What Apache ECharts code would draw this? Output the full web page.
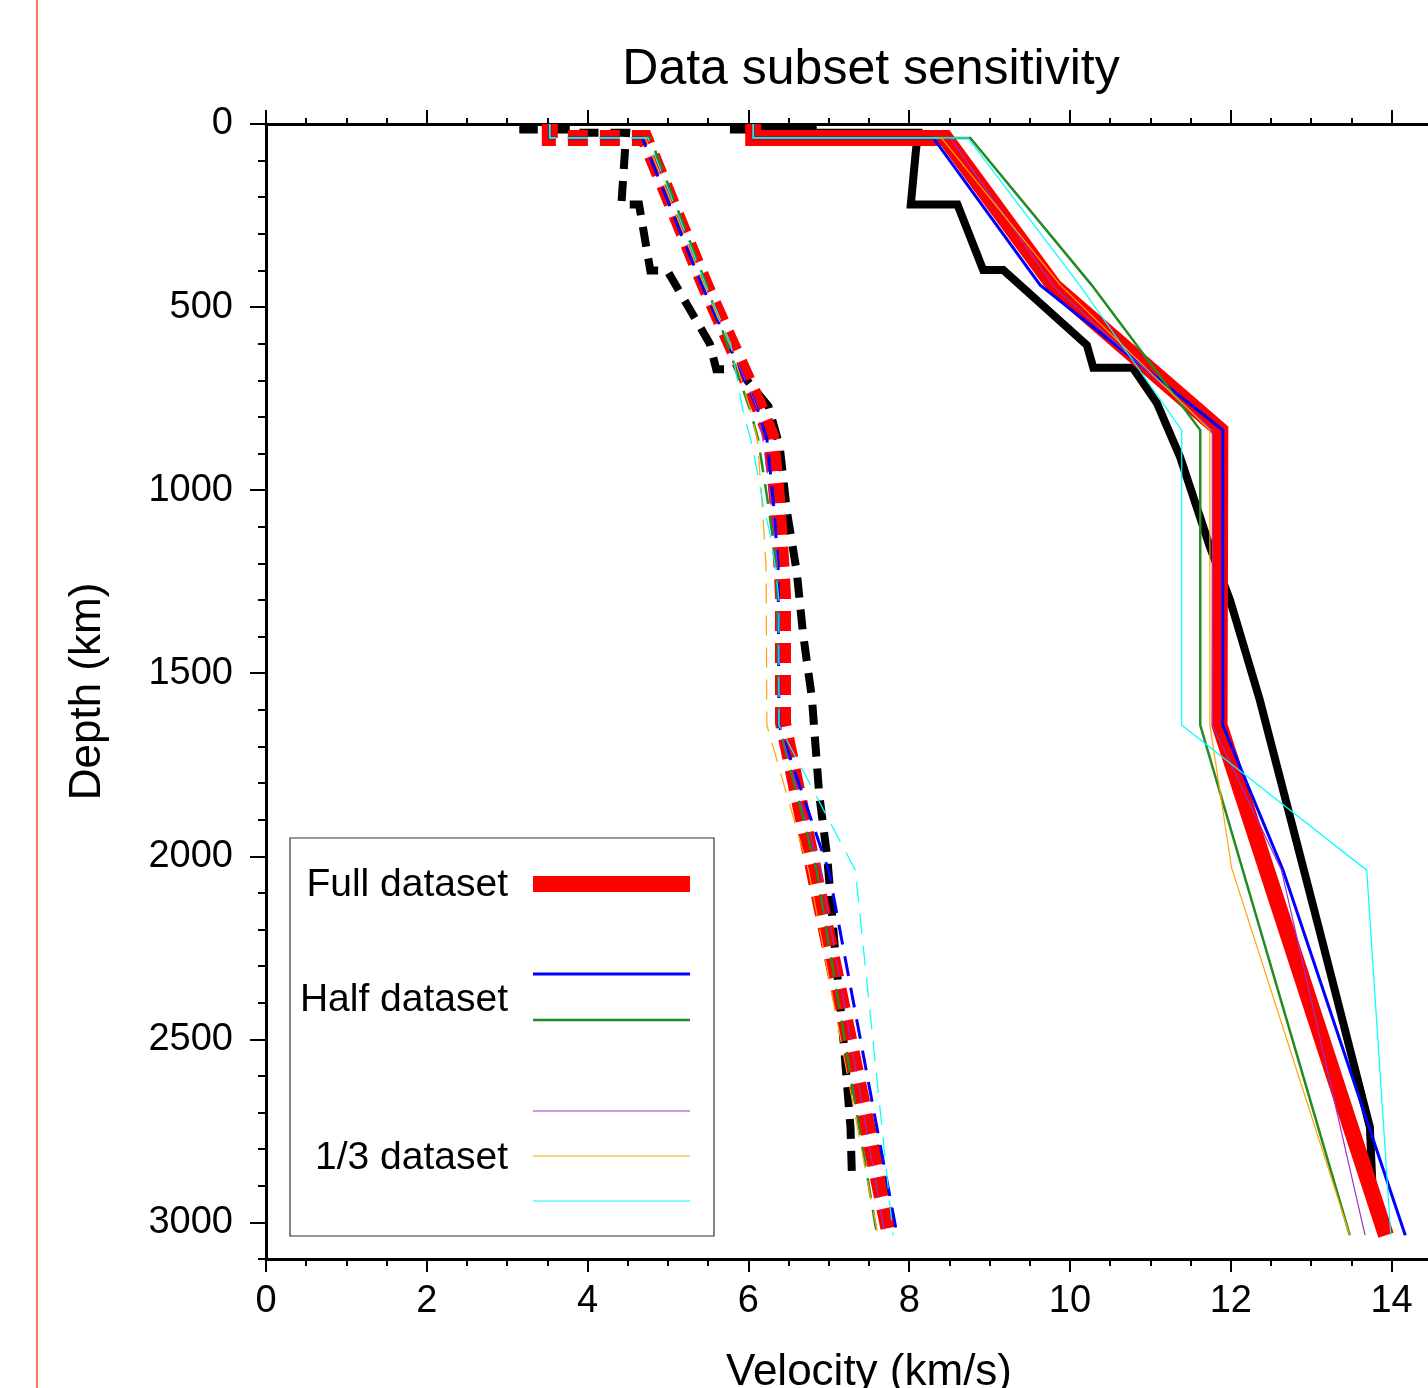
<!DOCTYPE html>
<html>
<head>
<meta charset="utf-8">
<script src="https://cdn.jsdelivr.net/npm/echarts@6/dist/echarts.min.js"></script>
<style>
    html, body { margin: 0; padding: 0; background: #ffffff; }
    #chart { width: 1428px; height: 1388px; }
</style>
</head>
<body>
<div id="chart"></div>
<script>
    // axis ticks
    var velocityTicks = [0, 2, 4, 6, 8, 10, 12, 14];
    var depthTicks = [0, 500, 1000, 1500, 2000, 2500, 3000];

    // reference model, [velocity km/s, depth km]
    var refVp = [[5.82, 0], [5.82, 15], [6.8, 15], [6.8, 24], [8.11, 24], [8.08, 80], [8.02, 220], [8.60, 220],
        [8.92, 399], [9.17, 399], [10.21, 604], [10.29, 666], [10.78, 666], [11.08, 762], [11.37, 910],
        [11.74, 1155], [11.99, 1300], [12.36, 1573], [12.77, 1920], [13.10, 2200], [13.45, 2500],
        [13.73, 2740], [13.76, 2891]];
    var refVs = [[3.2, 0], [3.2, 15], [3.9, 15], [3.9, 24], [4.48, 24], [4.42, 220], [4.64, 220], [4.78, 400],
        [4.99, 400], [5.52, 600], [5.60, 670], [5.87, 670], [6.25, 771], [6.39, 882], [6.48, 1060],
        [6.60, 1221], [6.68, 1393], [6.79, 1568], [6.88, 1830], [6.98, 2002], [7.08, 2262], [7.19, 2521],
        [7.27, 2741], [7.29, 2891]];

    // full dataset
    var fullVp = [[6.06, 0], [6.06, 38], [8.45, 38], [9.81, 445], [11.87, 836], [11.86, 1642], [13.93, 3035]];
    var fullVs = [[3.53, 0], [3.53, 38], [4.71, 38], [5.46, 440], [6.13, 770], [6.28, 852], [6.36, 1030],
        [6.41, 1205], [6.43, 1287], [6.43, 1636], [7.76, 3035]];

    // half dataset
    var halfAVp = [[6.06, 0], [6.06, 38], [8.30, 38], [9.63, 440], [11.90, 836], [11.90, 1642], [12.65, 2038], [14.17, 3035]];
    var halfAVs = [[3.53, 0], [3.53, 38], [4.68, 38], [5.42, 440], [6.10, 770], [6.23, 860], [6.31, 1030],
        [6.37, 1205], [6.38, 1642], [7.00, 2040], [7.85, 3035]];
    var halfBVp = [[6.06, 0], [6.06, 38], [8.76, 38], [10.27, 440], [11.62, 836], [11.62, 1642], [13.48, 3035]];
    var halfBVs = [[3.53, 0], [3.53, 38], [4.78, 38], [5.48, 440], [6.02, 780], [6.12, 860], [6.24, 1030],
        [6.35, 1205], [6.38, 1642], [6.85, 2040], [7.60, 3035]];

    // 1/3 dataset
    var thirdAVp = [[6.06, 0], [6.06, 38], [8.51, 38], [9.80, 445], [11.77, 836], [11.77, 1642], [12.63, 2038], [13.67, 3035]];
    var thirdAVs = [[3.53, 0], [3.53, 38], [4.72, 38], [5.45, 440], [6.10, 770], [6.18, 860], [6.28, 1030],
        [6.36, 1205], [6.38, 1642], [6.90, 2040], [7.70, 3035]];
    var thirdBVp = [[6.06, 0], [6.06, 38], [8.40, 38], [9.88, 440], [11.74, 836], [11.74, 1642], [12.01, 2032], [13.48, 3035]];
    var thirdBVs = [[3.53, 0], [3.53, 38], [4.72, 38], [5.45, 440], [5.80, 620], [6.02, 776], [6.11, 858],
        [6.17, 1035], [6.22, 1210], [6.23, 1642], [6.75, 2040], [7.61, 3035]];
    var thirdCVp = [[6.06, 0], [6.06, 38], [8.73, 38], [10.12, 440], [11.39, 836], [11.39, 1642], [13.69, 2038], [13.99, 3035]];
    var thirdCVs = [[3.53, 0], [3.53, 38], [4.75, 38], [5.47, 440], [5.78, 600], [5.93, 781], [6.03, 863],
        [6.11, 948], [6.18, 1035], [6.27, 1120], [6.33, 1205], [6.38, 1300], [6.38, 1642], [7.33, 2038], [7.80, 3035]];

    var FONT = "'Liberation Sans', Arial, Helvetica, sans-serif";
    var DASH = [20, 12];

    function lineSeries(name, data, color, width, dashed) {
        return {
            name: name,
            type: 'line',
            xAxisIndex: 0,
            yAxisIndex: 0,
            data: data,
            symbol: 'none',
            showSymbol: false,
            clip: true,
            silent: true,
            animation: false,
            lineStyle: {
                color: color,
                width: width,
                type: dashed ? DASH : 'solid',
                cap: 'butt',
                join: 'miter'
            }
        };
    }

    function axisBase(extra) {
        var base = {
            type: 'value',
            axisLine: { show: false, onZero: false },
            axisTick: { show: true, lineStyle: { color: '#000', width: 2 } },
            axisLabel: { show: false },
            splitLine: { show: false }
        };
        return Object.assign(base, extra);
    }

    var xAxes = [
        // bottom, major ticks + labels
        axisBase({
            position: 'bottom', min: 0, max: 15, interval: 2,
            axisLine: { show: true, onZero: false, lineStyle: { color: '#000', width: 3 } },
            axisTick: { show: true, length: 13, customValues: velocityTicks, lineStyle: { color: '#000', width: 2 } },
            axisLabel: {
                show: true, customValues: velocityTicks, margin: 24, fontSize: 38, color: '#000', fontFamily: FONT,
                formatter: function (v) { return String(v); }
            },
            name: 'Velocity (km/s)', nameLocation: 'middle', nameGap: 92,
            nameTextStyle: { fontSize: 44, color: '#000', fontFamily: FONT }
        }),
        // bottom, minor ticks
        axisBase({ position: 'bottom', min: 0, max: 15, interval: 0.5, axisTick: { show: true, length: 7, lineStyle: { color: '#000', width: 2 } } }),
        // top, major ticks
        axisBase({
            position: 'top', min: 0, max: 15, interval: 2,
            axisLine: { show: true, onZero: false, lineStyle: { color: '#000', width: 3 } },
            axisTick: { show: true, length: 14, customValues: velocityTicks, lineStyle: { color: '#000', width: 2 } }
        }),
        // top, minor ticks
        axisBase({ position: 'top', min: 0, max: 15, interval: 0.5, axisTick: { show: true, length: 6, lineStyle: { color: '#000', width: 2 } } })
    ];

    var yAxes = [
        axisBase({
            position: 'left', inverse: true, min: 0, max: 3100, interval: 500,
            axisLine: { show: true, onZero: false, lineStyle: { color: '#000', width: 3 } },
            axisTick: { show: true, length: 16, customValues: depthTicks, lineStyle: { color: '#000', width: 2 } },
            axisLabel: {
                show: true, customValues: depthTicks, margin: 33, fontSize: 38, color: '#000', fontFamily: FONT,
                formatter: function (v) { return String(v); }
            },
            name: 'Depth (km)', nameLocation: 'middle', nameGap: 156, nameRotate: 90,
            nameTextStyle: { fontSize: 44, color: '#000', fontFamily: FONT }
        }),
        axisBase({ position: 'left', inverse: true, min: 0, max: 3100, interval: 100, axisTick: { show: true, length: 8, lineStyle: { color: '#000', width: 2 } } })
    ];

    var series = [
        lineSeries('ref Vp', refVp, '#000000', 8, false),
        lineSeries('ref Vs', refVs, '#000000', 8, true),
        lineSeries('Full Vp', fullVp, '#ff0000', 16, false),
        lineSeries('Full Vs', fullVs, '#ff0000', 16, true),
        lineSeries('Half A Vp', halfAVp, '#0000ff', 3, false),
        lineSeries('Half A Vs', halfAVs, '#0000ff', 3, true),
        lineSeries('Half B Vp', halfBVp, '#228b22', 2.5, false),
        lineSeries('Half B Vs', halfBVs, '#228b22', 2.5, true),
        lineSeries('Third A Vp', thirdAVp, '#9932cc', 1.2, false),
        lineSeries('Third A Vs', thirdAVs, '#9932cc', 1.2, true),
        lineSeries('Third B Vp', thirdBVp, '#ffa500', 1.2, false),
        lineSeries('Third B Vs', thirdBVs, '#ffa500', 1.2, true),
        lineSeries('Third C Vp', thirdCVp, '#00ffff', 1.2, false),
        lineSeries('Third C Vs', thirdCVs, '#00ffff', 1.2, true)
    ];

    function legendText(text, y) {
        return {
            type: 'text', z: 110,
            style: { text: text, x: 508, y: y, fontSize: 39, fontFamily: FONT, fill: '#000',
                align: 'right', verticalAlign: 'middle', textAlign: 'right', textVerticalAlign: 'middle' }
        };
    }
    function legendLine(y, color, width) {
        return {
            type: 'line', z: 110,
            shape: { x1: 533, y1: y, x2: 690, y2: y },
            style: { stroke: color, lineWidth: width }
        };
    }

    var graphics = [
        { type: 'line', shape: { x1: 37, y1: 0, x2: 37, y2: 1388 }, style: { stroke: '#f0442c', lineWidth: 1.5 } },
        {
            type: 'text', z: 100,
            style: { text: 'Data subset sensitivity', x: 871, y: 70, fontSize: 50, fontFamily: FONT, fill: '#000',
                align: 'center', verticalAlign: 'middle', textAlign: 'center', textVerticalAlign: 'middle' }
        },
        {
            type: 'rect', z: 105,
            shape: { x: 290, y: 838, width: 424, height: 398 },
            style: { fill: '#ffffff', stroke: '#333333', lineWidth: 1.2 }
        },
        legendText('Full dataset', 885),
        legendText('Half dataset', 1000),
        legendText('1/3 dataset', 1158),
        legendLine(884, '#ff0000', 16),
        legendLine(974, '#0000ff', 3),
        legendLine(1020, '#228b22', 2.5),
        legendLine(1111, '#9932cc', 1.2),
        legendLine(1156, '#ffa500', 1.2),
        legendLine(1201, '#00ffff', 1.2)
    ];

    var myChart = echarts.init(document.getElementById('chart'));
    var option = {
        backgroundColor: '#ffffff',
        animation: false,
        grid: { left: 266, top: 124, width: 1206, height: 1135, containLabel: false, outerBoundsMode: 'none' },
        xAxis: xAxes,
        yAxis: yAxes,
        series: series,
        graphic: graphics
    };
    myChart.setOption(option);
</script>
</body>
</html>
